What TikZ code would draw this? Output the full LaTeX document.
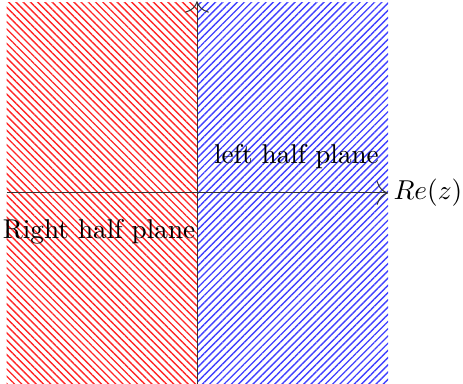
\documentclass[tikz,border=0pt]{standalone}
\usetikzlibrary{patterns.meta, arrows.meta}
\tikzset{
  halfred/.style={pattern={Lines[angle=-45, distance=2.05pt, line width=0.55pt]}, pattern color=red!85!white, draw=none},
  halfblue/.style={pattern={Lines[angle=45, distance=2.05pt, line width=0.55pt]}, pattern color=blue!75!white, draw=none},
  axis/.style={-{To[length=1.6mm]}, line width=0.4pt, black!80},
  lbl/.style={font=\fontsize{10.9}{13}\selectfont, inner sep=1pt},
}
\begin{document}
\begin{tikzpicture}
    \useasboundingbox (-2.775,-2.69) rectangle (3.746,2.718);
    % Half planes
    \fill[halfred] (-2.68,-2.69) rectangle (0,2.68);
    \fill[halfblue] (0,-2.69) rectangle (2.69,2.68);
    % Axes
    \coordinate (xl) at (-2.68,0);
    \coordinate (xr) at (2.69,0);
    \coordinate (yb) at (0,-2.69);
    \coordinate (yt) at (0,2.7);
    \draw[axis] (xl) -- (xr);
    \draw[axis] (yb) -- (yt);
    \node[lbl, right=1pt] (re) at (xr) {$Re(z)$};
    % Labels
    \node[lbl] (lhp) at (1.4,0.51) {left half plane};
    \node[lbl] (rhp) at (-1.38,-0.55) {Right half plane};
\end{tikzpicture}
\end{document}
